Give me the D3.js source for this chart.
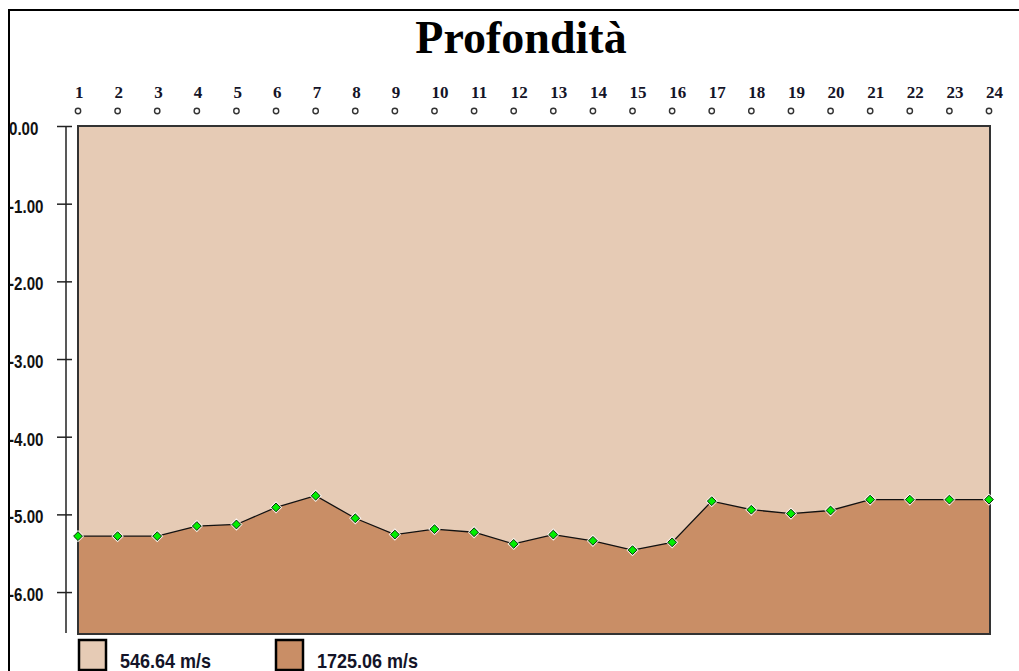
<!DOCTYPE html>
<html>
<head>
<meta charset="utf-8">
<script src="https://cdn.jsdelivr.net/npm/d3@7"></script>
<style>
  body { margin: 0; background: #fff; }
  svg { display: block; }
</style>
</head>
<body>
<div id="chart"></div>
<script>
const title = 'Profondità'
const geophones = [1,2,3,4,5,6,7,8,9,10,11,12,13,14,15,16,17,18,19,20,21,22,23,24]
const depths = [-5.28,-5.28,-5.28,-5.15,-5.13,-4.91,-4.76,-5.05,-5.26,-5.19,-5.23,-5.38,
                -5.26,-5.34,-5.46,-5.36,-4.83,-4.94,-4.99,-4.95,-4.81,-4.81,-4.81,-4.81]
const yTicks = [0,-1,-2,-3,-4,-5,-6]
const yMin = -6.54
const layers = ['546.64 m/s', '1725.06 m/s']
const layerColors = ['#e6cbb5', '#c98e66']

const width = 1019, height = 671
const plot = {left: 78, right: 990, top: 126, bottom: 634}
const sansFont = '"Liberation Sans", Arial, sans-serif'
const serifFont = '"Liberation Serif", "Times New Roman", serif'

const svg = d3.select('#chart').append('svg')
  .attr('width', width)
  .attr('height', height);

// outer frame (left + top only visible)
svg.append('path')
  .attr('d', `M9,${height}V10H${width}`)
  .attr('fill', 'none')
  .attr('stroke', '#000')
  .attr('stroke-width', 2);

svg.append('text')
  .attr('x', 521)
  .attr('y', 53)
  .attr('text-anchor', 'middle')
  .style('font-family', serifFont)
  .style('font-weight', 'bold')
  .style('font-size', '46px')
  .text(title);

const xScale = d3.scaleLinear()
  .domain([1, 24])
  .range([plot.left, plot.right - 1]);

const yScale = d3.scaleLinear()
  .domain([0, yMin])
  .range([plot.top, plot.bottom]);

// upper layer background
svg.append('rect')
  .attr('x', plot.left)
  .attr('y', plot.top)
  .attr('width', plot.right - plot.left)
  .attr('height', plot.bottom - plot.top)
  .attr('fill', layerColors[0]);

// lower layer
const area = d3.area()
  .x((d, i) => xScale(geophones[i]))
  .y0(yScale(yMin))
  .y1(d => yScale(d));

svg.append('path')
  .attr('d', area(depths))
  .attr('fill', layerColors[1]);

const line = d3.line()
  .x((d, i) => xScale(geophones[i]))
  .y(d => yScale(d));

svg.append('path')
  .attr('d', line(depths))
  .attr('fill', 'none')
  .attr('stroke', '#111')
  .attr('stroke-width', 1.3);

// plot border
svg.append('rect')
  .attr('x', plot.left)
  .attr('y', plot.top)
  .attr('width', plot.right - plot.left)
  .attr('height', plot.bottom - plot.top)
  .attr('fill', 'none')
  .attr('stroke', '#333')
  .attr('stroke-width', 2);

// markers
const diamond = (cx, cy, r) => `M${cx},${cy - r}L${cx + r},${cy}L${cx},${cy + r}L${cx - r},${cy}Z`;
const marks = svg.append('g');
marks.selectAll('.halo').data(depths).enter().append('path')
  .attr('class', 'halo')
  .attr('d', (d, i) => diamond(xScale(geophones[i]), yScale(d), 6.2))
  .attr('fill', '#fff')
  .attr('opacity', 0.85);
marks.selectAll('.pt').data(depths).enter().append('path')
  .attr('class', 'pt')
  .attr('d', (d, i) => diamond(xScale(geophones[i]), yScale(d), 4.4))
  .attr('fill', '#00ee00')
  .attr('stroke', '#0a2a0a')
  .attr('stroke-width', 1);

// geophone labels along the top
const topG = svg.append('g');
topG.selectAll('text').data(geophones).enter().append('text')
  .attr('x', d => xScale(d) - 3)
  .attr('y', 98)
  .style('font-family', serifFont)
  .style('font-weight', 'bold')
  .style('font-size', '17px')
  .attr('fill', '#141428')
  .text(d => d);
topG.selectAll('circle').data(geophones).enter().append('circle')
  .attr('cx', d => xScale(d))
  .attr('cy', 111)
  .attr('r', 2.7)
  .attr('fill', '#fff')
  .attr('stroke', '#333')
  .attr('stroke-width', 1.4);

// y axis
const yAxis = d3.axisLeft(yScale)
  .tickValues(yTicks)
  .tickSize(0)
  .tickFormat('');
const yAxisG = svg.append('g')
  .attr('transform', 'translate(66,0)')
  .call(yAxis);
yAxisG.select('.domain')
  .attr('d', `M0,${plot.top}V${plot.bottom - 1}`)
  .attr('stroke', '#222')
  .attr('stroke-width', 1.5);
yAxisG.selectAll('.tick line')
  .attr('x1', -9)
  .attr('x2', 6)
  .attr('stroke', '#222')
  .attr('stroke-width', 1.5);

svg.append('g').selectAll('text').data(yTicks).enter().append('text')
  .attr('transform', d => `translate(9,${yScale(d) + 9}) scale(0.84,1)`)
  .style('font-family', sansFont)
  .style('font-weight', 'bold')
  .style('font-size', '18px')
  .attr('fill', '#111')
  .text(d => d.toFixed(2));

// legend
const legend = svg.append('g').selectAll('g').data(layers).enter().append('g')
  .attr('transform', (d, i) => `translate(${79 + i * 197},640)`);
legend.append('rect')
  .attr('width', 27)
  .attr('height', 30)
  .attr('fill', (d, i) => layerColors[i])
  .attr('stroke', '#000')
  .attr('stroke-width', 2.5);
legend.append('text')
  .attr('transform', 'translate(41,28) scale(0.9,1)')
  .style('font-family', sansFont)
  .style('font-weight', 'bold')
  .style('font-size', '20px')
  .attr('fill', '#141428')
  .text(d => d);
</script>
</body>
</html>
